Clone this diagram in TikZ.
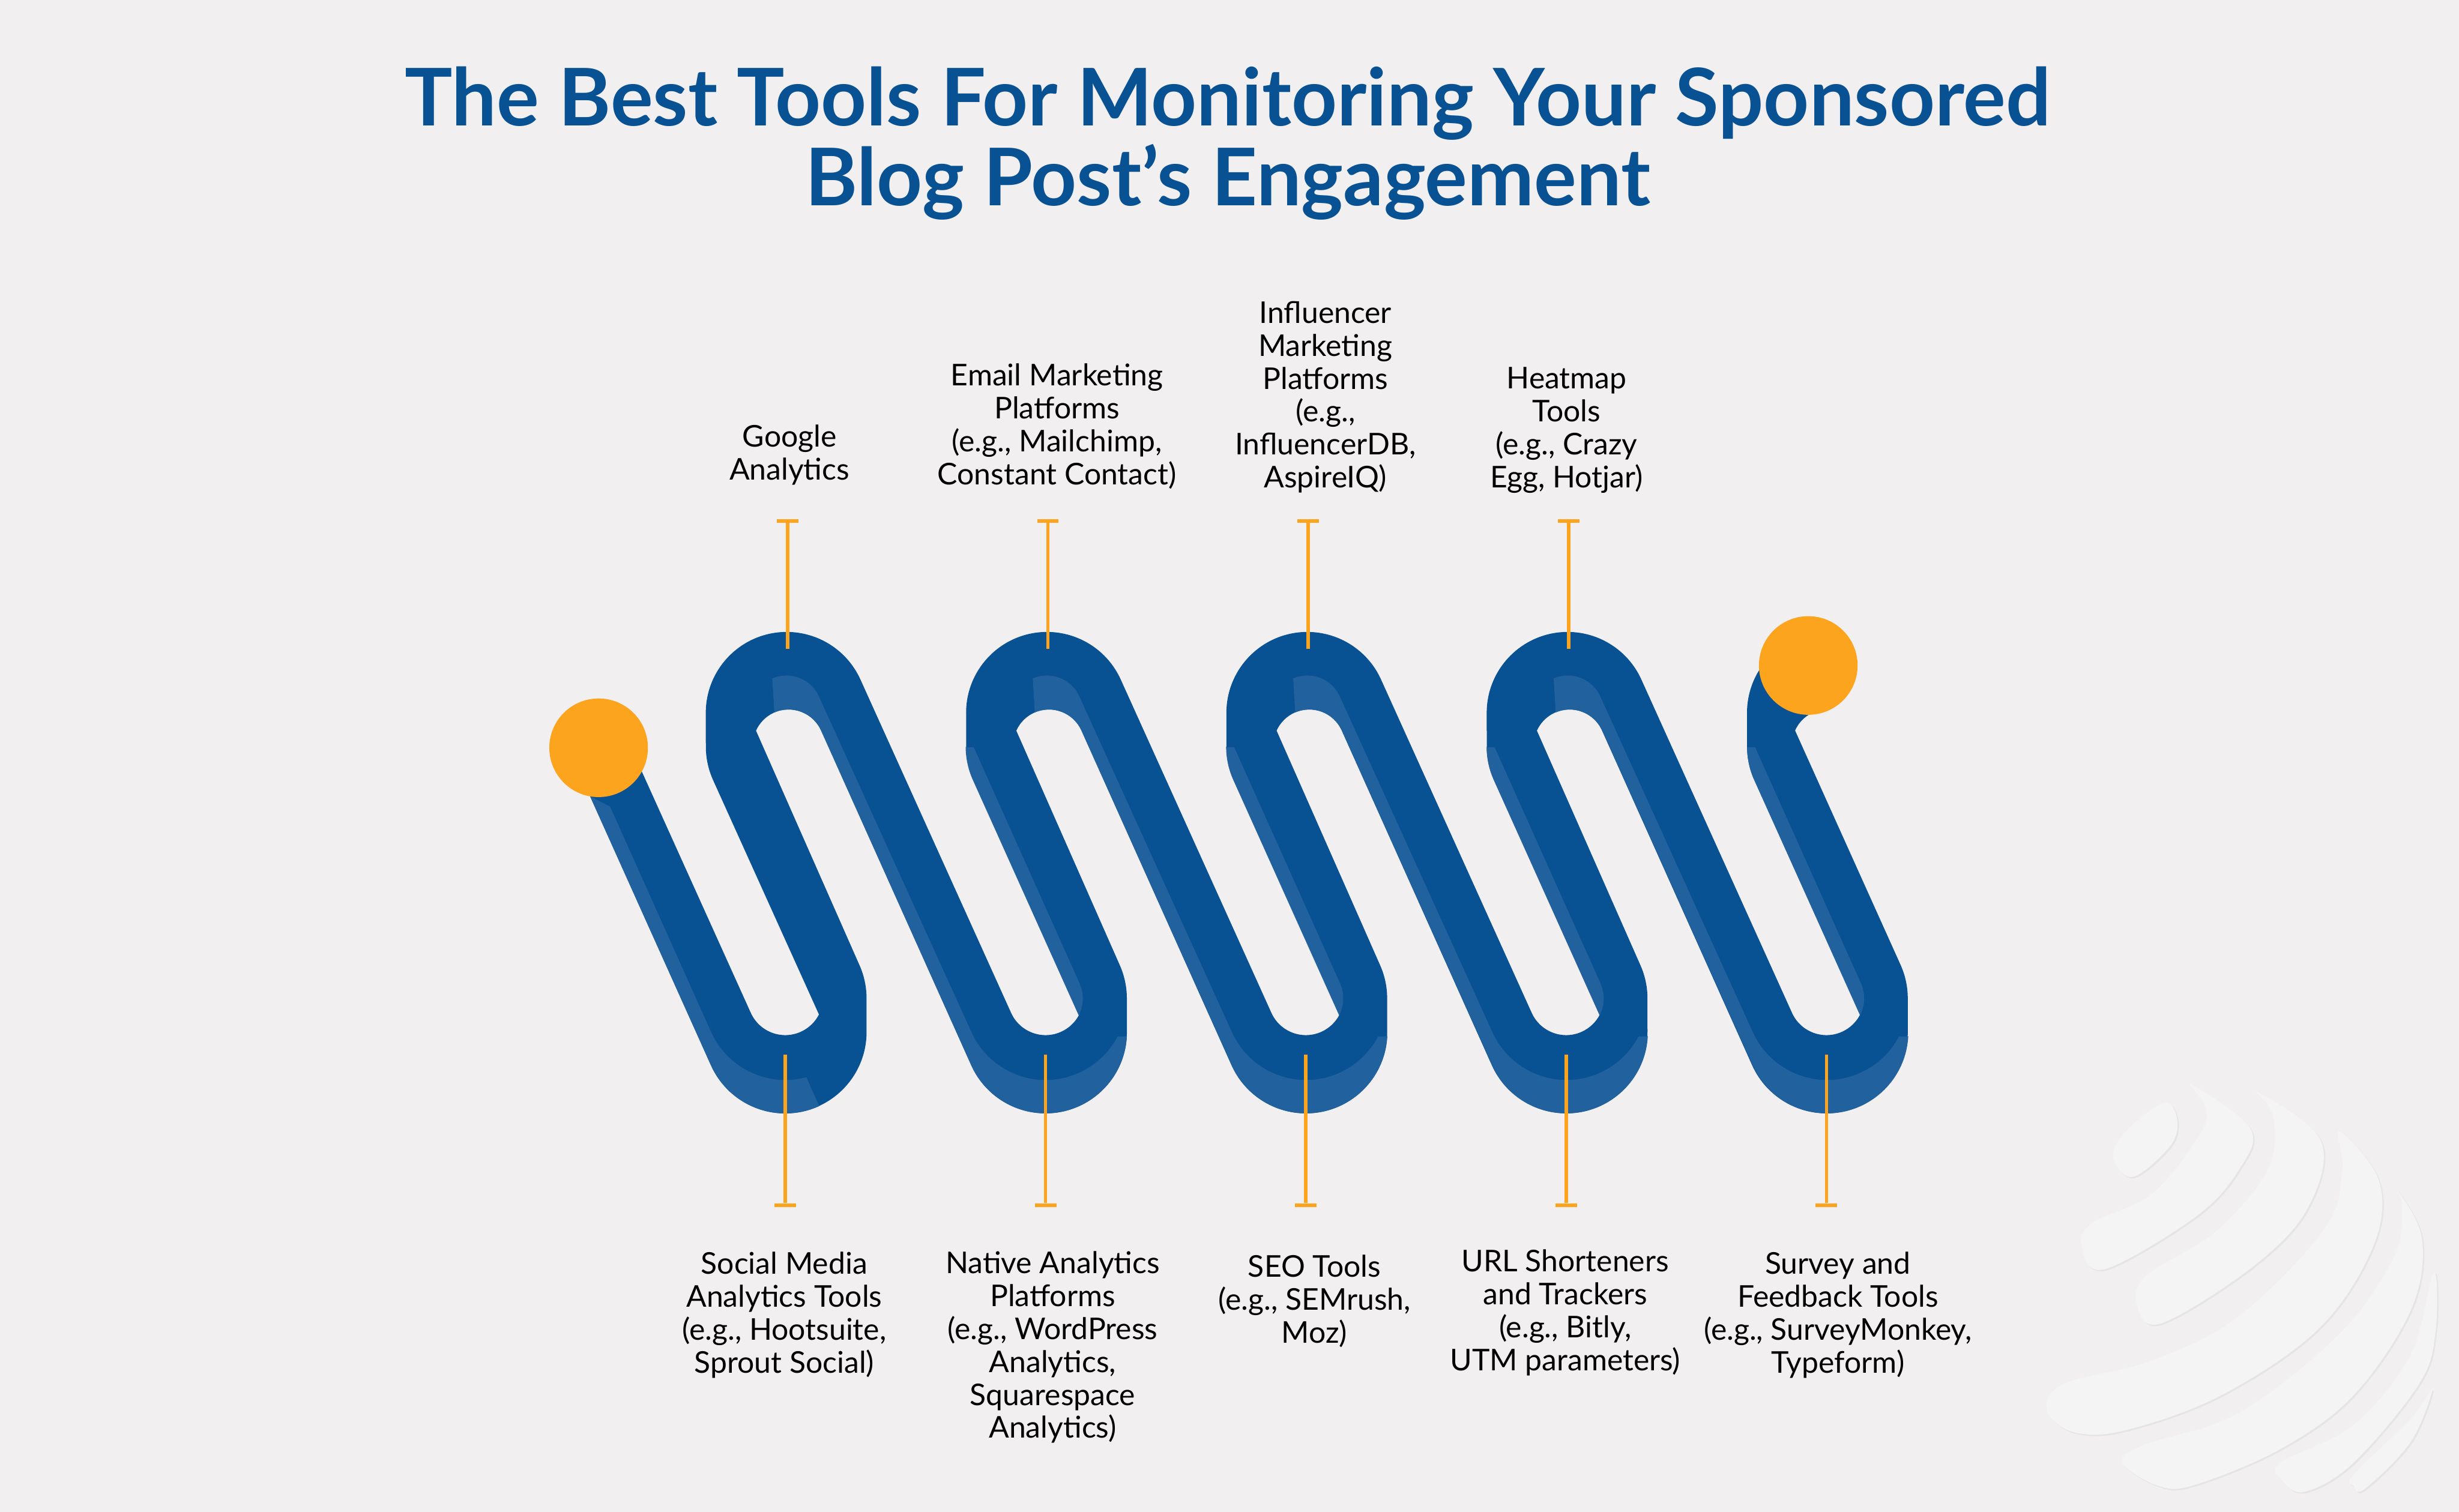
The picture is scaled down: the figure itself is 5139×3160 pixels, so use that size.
\documentclass[tikz,border=0pt]{standalone}
\usepackage{fontspec}
\setmainfont{Lato}

\definecolor{pagegrey}{HTML}{F1EFF0}
\definecolor{globegrey}{HTML}{F4F4F4}
\definecolor{globeedge}{HTML}{E6E5E6}
\definecolor{ribbonblue}{HTML}{085193}
\definecolor{ribbonlight}{HTML}{21619D}
\definecolor{accent}{HTML}{FDA41F}

\tikzset{
    headline/.style={text=ribbonblue, align=center, font=\bfseries\fontsize{47.3}{47.5}\selectfont},
    toollabel/.style={text=black, align=center, font=\fontsize{17.8}{19.6}\selectfont},
    enddot/.style={circle, fill=accent, minimum size=2.06cm, inner sep=0pt},
    capbar/.style={rectangle, fill=accent, minimum width=0.45cm, minimum height=0.07cm, inner sep=0pt},
    stem/.style={accent, line width=0.07cm},
}

% one globe slice: soft edge first, then the face
\newcommand{\globeslice}[1]{
    \fill[globeedge, xshift=0.03cm, yshift=-0.03cm] plot[smooth cycle, tension=0.6] coordinates {#1};
    \fill[globegrey] plot[smooth cycle, tension=0.6] coordinates {#1};
}

\begin{document}
\begin{tikzpicture}[x=0.01cm, y=-0.01cm]
    \useasboundingbox (0,0) rectangle (5139,3160);
    \fill[pagegrey] (0,0) rectangle (5139,3160);

    % globe in the corner
    \globeslice{(5083,2904) (5038,3014) (4942,3112) (4919,3106) (4919,3082) (5038,2965)}
    \globeslice{(5086,2659) (5090,2782) (5056,2892) (4919,3057) (4817,3118) (4769,3094) (4766,3057) (4919,2978) (5038,2831)}
    \globeslice{(5011,2488) (5062,2592) (5038,2739) (4919,2916) (4769,3027) (4589,3103) (4511,3106) (4436,3057) (4481,3020) (4679,2953) (4889,2788) (5002,2629) (5020,2525)}
    \globeslice{(4889,2365) (4972,2469) (4960,2604) (4847,2776) (4643,2916) (4440,2990) (4332,2993) (4278,2947) (4314,2892) (4499,2843) (4679,2751) (4859,2567) (4895,2445)}
    \globeslice{(4718,2283) (4850,2384) (4823,2525) (4709,2647) (4517,2766) (4466,2727) (4487,2665) (4631,2574) (4739,2445) (4751,2335)}
    \globeslice{(4580,2267) (4703,2359) (4679,2445) (4589,2543) (4398,2653) (4350,2604) (4374,2555) (4499,2494) (4601,2365) (4607,2310)}
    \globeslice{(4523,2305) (4550,2341) (4535,2396) (4457,2460) (4416,2417) (4445,2362)}

    % whole ribbon outline
    \fill[ribbonblue] (1233,1664) -- (1251,1563) -- (1341,1612)
        \foreach \k in {0,...,3} {
            -- (1569+\k*544,2117) arc[start angle=204.2, end angle=333, radius=0.79cm]
            -- (1490+\k*544,1630) arc[start angle=204.2, end angle=180, radius=1.69cm]
            -- (1475+\k*544,1490) arc[start angle=180, end angle=24.2, radius=1.69cm]
        }
        -- (3745,2117) arc[start angle=204.2, end angle=333, radius=0.79cm]
        -- (3666,1630) arc[start angle=204.2, end angle=180, radius=1.69cm]
        -- (3651,1490) arc[start angle=180, end angle=90, radius=1.69cm]
        -- (3780,1494) arc[start angle=122, end angle=156, radius=0.745cm]
        \foreach \k in {3,2,1,0} {
            -- (2340+\k*544,2017) arc[start angle=24.2, end angle=0, radius=1.70cm]
            -- (2355+\k*544,2157) arc[start angle=0, end angle=-155.8, radius=1.70cm]
            -- (1716+\k*544,1527) arc[start angle=24.2, end angle=156, radius=0.745cm]
        }
        -- (1796,2017) arc[start angle=24.2, end angle=0, radius=1.70cm]
        -- (1811,2157) arc[start angle=0, end angle=-155.8, radius=1.70cm]
        -- cycle;

    % lighter faces of the ribbon
    \fill[ribbonlight] (1233,1664) -- (1275,1686) -- (1486,2157)
        arc[start angle=204.2, end angle=285, radius=1.70cm] -- (1712,2312)
        arc[start angle=-65.4, end angle=-155.8, radius=1.70cm] -- cycle;
    \foreach \k in {0,...,3} {
        \begin{scope}[xshift=\k*5.44cm]
            \fill[ribbonlight] (1614,1418) arc[start angle=113.3, end angle=24.2, radius=0.745cm]
                -- (2030,2157) arc[start angle=204.2, end angle=332.2, radius=1.70cm]
                -- (2355,2166) arc[start angle=-3, end angle=-155.8, radius=1.70cm]
                -- (1716,1527) arc[start angle=24.2, end angle=113.6, radius=0.745cm] -- cycle;
            \fill[ribbonlight] (2019,1562) -- (2035,1562) -- (2256,2055)
                arc[start angle=24.2, end angle=-27, radius=0.78cm]
                -- (2033,1630) arc[start angle=204.2, end angle=180, radius=1.69cm] -- cycle;
        \end{scope}
    }

    % two dots
    \node[enddot] (startdot) at (1251,1563) {};
    \node[enddot] (enddot) at (3779,1391) {};

    % stems
    \foreach \k in {0,...,3} {
        \node[capbar] (topcap\k) at (1646+\k*544,1089) {};
        \coordinate (topfoot\k) at (1646+\k*544,1356);
        \draw[stem] (topcap\k) -- (topfoot\k);
    }
    \foreach \k in {0,...,4} {
        \node[capbar] (lowcap\k) at (1641+\k*544,2519) {};
        \coordinate (lowfoot\k) at (1641+\k*544,2204);
        \draw[stem] (lowcap\k) -- (lowfoot\k);
    }

    % title and labels
    \node[headline] (title) at (2566,300) {The Best Tools For Monitoring Your Sponsored\\Blog Post’s Engagement};

    \node[toollabel] (google) at (1650,951) {Google\\Analytics};
    \node[toollabel] (email) at (2209,891) {Email Marketing\\Platforms\\(e.g., Mailchimp,\\Constant Contact)};
    \node[toollabel] (influencer) at (2770,830) {Influencer\\Marketing\\Platforms\\(e.g.,\\InfluencerDB,\\AspireIQ)};
    \node[toollabel] (heatmap) at (3274,899) {Heatmap\\Tools\\(e.g., Crazy\\Egg, Hotjar)};

    \node[toollabel] (social) at (1639,2749) {Social Media\\Analytics Tools\\(e.g., Hootsuite,\\Sprout Social)};
    \node[toollabel] (native) at (2200,2816) {Native Analytics\\Platforms\\(e.g., WordPress\\Analytics,\\Squarespace\\Analytics)};
    \node[toollabel] (seo) at (2747,2720) {SEO Tools\\(e.g., SEMrush,\\Moz)};
    \node[toollabel] (url) at (3271,2744) {URL Shorteners\\and Trackers\\(e.g., Bitly,\\UTM parameters)};
    \node[toollabel] (survey) at (3841,2749) {Survey and\\Feedback Tools\\(e.g., SurveyMonkey,\\Typeform)};
\end{tikzpicture}
\end{document}
